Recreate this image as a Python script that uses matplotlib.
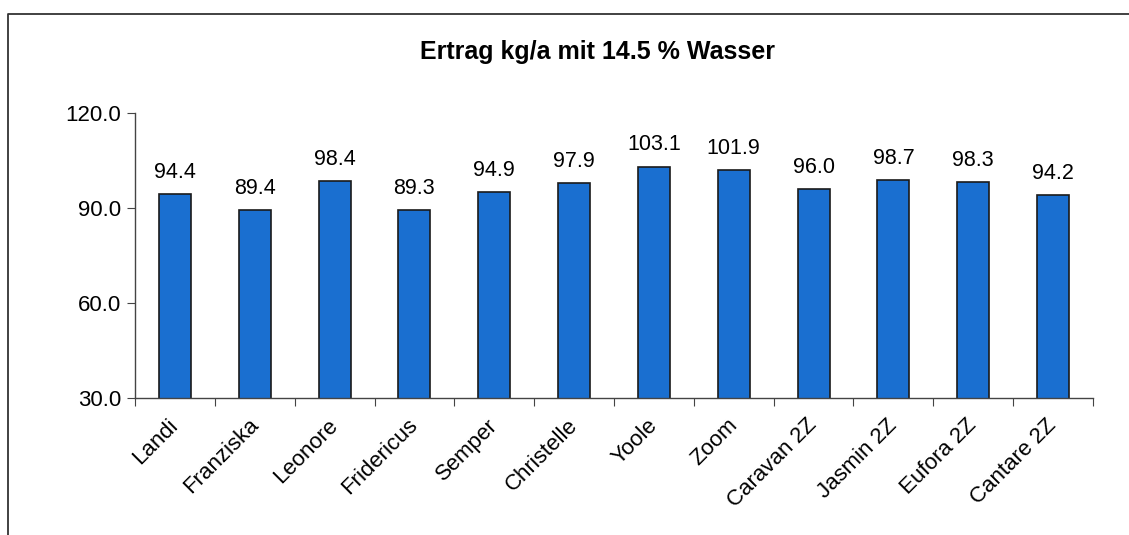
import matplotlib
matplotlib.use('Agg')
import matplotlib.pyplot as plt
import matplotlib.transforms as mtransforms
from matplotlib.lines import Line2D
import numpy as np

plt.rcParams['font.family'] = ['Liberation Sans', 'DejaVu Sans']

# data
sorten = ['Landi', 'Franziska', 'Leonore', 'Fridericus', 'Semper', 'Christelle',
          'Yoole', 'Zoom', 'Caravan 2Z', 'Jasmin 2Z', 'Eufora 2Z', 'Cantare 2Z']
ertrag = [94.4, 89.4, 98.4, 89.3, 94.9, 97.9, 103.1, 101.9, 96.0, 98.7, 98.3, 94.2]
yticks = [30.0, 60.0, 90.0, 120.0]

W, H = 1129, 535
fig = plt.figure(figsize=(W / 100, H / 100), dpi=100)

# frame of the scanned chart: top and left edge only
fig.lines.append(Line2D([8 / W, 8 / W, 1.0], [0.0, 1 - 14 / H, 1 - 14 / H],
                        transform=fig.transFigure, color='#333333', linewidth=1.3))

ax = fig.add_axes([135 / W, 1 - 398 / H, (1093 - 135) / W, (398 - 113) / H])

x = np.arange(len(sorten))
bars = ax.bar(x, ertrag, width=0.4, bottom=0, color='#1a6fd0',
              edgecolor='#1a1a1a', linewidth=1.2, zorder=2)

for xi, v in zip(x, ertrag):
    ax.annotate('%.1f' % v, (xi, v), xytext=(0, 8), textcoords='offset points',
                ha='center', va='bottom', fontsize=15.5)

ax.set_xlim(-0.5, len(sorten) - 0.5)
ax.set_ylim(30, 120)
ax.set_yticks(yticks)
ax.set_yticklabels(['%.1f' % t for t in yticks], fontsize=16)

# ticks between the categories, labels at the category centers
ax.set_xticks(np.arange(len(sorten) + 1) - 0.5)
ax.set_xticklabels([])
ax.set_xticks(x, minor=True)
ax.set_xticklabels(sorten, minor=True, rotation=45, ha='right',
                   rotation_mode='anchor', fontsize=16)
ax.tick_params(axis='x', which='minor', length=0, pad=12)
ax.tick_params(axis='x', which='major', length=6, color='#444444', direction='out')
ax.tick_params(axis='y', length=6, color='#444444', direction='out', pad=4)

shift = mtransforms.ScaledTranslation(-7 / 100, 0, fig.dpi_scale_trans)
for lbl in ax.xaxis.get_minorticklabels():
    lbl.set_transform(lbl.get_transform() + shift)

for s in ['top', 'right']:
    ax.spines[s].set_visible(False)
for s in ['left', 'bottom']:
    ax.spines[s].set_color('#444444')
    ax.spines[s].set_linewidth(1.0)

fig.text(597 / W, 1 - 52 / H, 'Ertrag kg/a mit 14.5 % Wasser', ha='center',
         va='center', fontsize=18, fontweight='bold')

fig.savefig('out.png', dpi=100)
